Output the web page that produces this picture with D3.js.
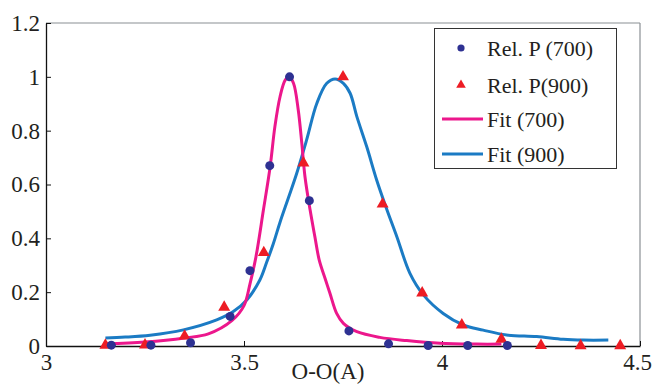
<!DOCTYPE html>
<html>
<head>
<meta charset="utf-8">
<script src="https://cdn.jsdelivr.net/npm/d3@7"></script>
<style>
  body { margin: 0; background: #fff; }
  svg { display: block; font-family: "Liberation Serif", "Times New Roman", serif; }
</style>
</head>
<body>
<svg id="chart" width="653" height="385"></svg>
<script>
// Rel. P (700) points
const dots700X = [3.165, 3.265, 3.365, 3.465, 3.515, 3.565, 3.615, 3.665, 3.765, 3.865, 3.965, 4.065, 4.165];
const dots700Y = [0.003, 0.003, 0.012, 0.11, 0.28, 0.67, 1.0, 0.54, 0.056, 0.008, 0.002, 0.002, 0.002];

// Rel. P(900) points
const tri900X = [3.15, 3.25, 3.35, 3.45, 3.55, 3.65, 3.75, 3.85, 3.95, 4.05, 4.15, 4.25, 4.35, 4.45];
const tri900Y = [0.003, 0.004, 0.037, 0.144, 0.347, 0.68, 1.0, 0.527, 0.197, 0.078, 0.025, 0.002, 0.001, 0.001];

// Fit (700) curve
const fit700X = [3.15, 3.25, 3.35, 3.41, 3.47, 3.50, 3.515, 3.53, 3.549, 3.566, 3.578, 3.591, 3.604, 3.614, 3.625,
  3.637, 3.646, 3.654, 3.667, 3.679, 3.69, 3.705, 3.717, 3.734, 3.751, 3.785, 3.843, 3.911, 3.995, 4.088, 4.15];
const fit700Y = [0.008, 0.015, 0.03, 0.045, 0.095, 0.15, 0.23, 0.33, 0.505, 0.666, 0.815, 0.926, 0.988, 1.0, 0.976,
  0.877, 0.753, 0.629, 0.505, 0.406, 0.319, 0.25, 0.196, 0.121, 0.084, 0.053, 0.032, 0.02, 0.01, 0.007, 0.007];

// Fit (900) curve
const fit900X = [3.15, 3.20, 3.263, 3.347, 3.431, 3.473, 3.507, 3.54, 3.557, 3.574, 3.591, 3.612, 3.633, 3.658, 3.684,
  3.709, 3.73, 3.751, 3.768, 3.785, 3.81, 3.835, 3.86, 3.886, 3.919, 3.953, 4.003, 4.054, 4.104, 4.163, 4.239,
  4.306, 4.357, 4.42];
const fit900Y = [0.03, 0.033, 0.04, 0.06, 0.097, 0.128, 0.171, 0.245, 0.31, 0.38, 0.46, 0.55, 0.641, 0.765, 0.902,
  0.976, 0.992, 0.976, 0.939, 0.852, 0.74, 0.617, 0.51, 0.406, 0.27, 0.19, 0.121, 0.078, 0.059, 0.041, 0.035,
  0.025, 0.022, 0.022];

const xTicks = [3, 3.5, 4, 4.5];
const yTicks = [0, 0.2, 0.4, 0.6, 0.8, 1, 1.2];
const legendLabels = ["Rel. P (700)", "Rel. P(900)", "Fit (700)", "Fit (900)"];

const colDot = "#2e3192";
const colTri = "#ed1c24";
const colFit700 = "#ec178c";
const colFit900 = "#1b7bc4";

const svg = d3.select("#chart");
const plotLeft = 46, plotRight = 640, plotTop = 23, plotBottom = 346;

const x = d3.scaleLinear().domain([3, 4.5]).range([plotLeft, plotRight]);
const y = d3.scaleLinear().domain([0, 1.2]).range([plotBottom, plotTop]);

// frame: top and right in gray
svg.append("line")
  .attr("x1", plotLeft).attr("x2", plotRight).attr("y1", plotTop).attr("y2", plotTop)
  .attr("stroke", "#8a8f94").attr("stroke-width", 1.2);
svg.append("line")
  .attr("x1", plotRight).attr("x2", plotRight).attr("y1", plotTop).attr("y2", plotBottom)
  .attr("stroke", "#8a8f94").attr("stroke-width", 1.2);

// x axis
const gx = svg.append("g")
  .attr("transform", "translate(0," + plotBottom + ")")
  .call(d3.axisBottom(x).tickValues(xTicks).tickSizeInner(-5).tickSizeOuter(0)
    .tickFormat(d3.format("")));
gx.select(".domain").attr("stroke", "#111").attr("stroke-width", 1.3);
gx.selectAll(".tick line").attr("stroke", "#111");
gx.selectAll(".tick text")
  .attr("y", 24).attr("dy", 0)
  .attr("dx", d => d === 4.5 ? -3 : 0)
  .attr("fill", "#231f20")
  .style("font-size", "23px")
  .style("font-family", "Liberation Serif");

// y axis
const gy = svg.append("g")
  .attr("transform", "translate(" + plotLeft + ",0)")
  .call(d3.axisLeft(y).tickValues(yTicks).tickSizeInner(-5).tickSizeOuter(0)
    .tickFormat(d3.format("")));
gy.select(".domain").attr("stroke", "#111").attr("stroke-width", 1.3);
gy.selectAll(".tick line").attr("stroke", "#111");
gy.selectAll(".tick text")
  .attr("x", -6)
  .attr("fill", "#231f20")
  .style("font-size", "23px")
  .style("font-family", "Liberation Serif");

// axis title
svg.append("text")
  .attr("x", 328).attr("y", 379)
  .attr("text-anchor", "middle")
  .attr("fill", "#231f20")
  .style("font-size", "23px")
  .text("O-O(A)");

// fit lines
const line = d3.line()
  .x(d => x(d[0]))
  .y(d => y(d[1]))
  .curve(d3.curveCatmullRom.alpha(0.5));

svg.append("path")
  .datum(d3.zip(fit900X, fit900Y))
  .attr("fill", "none")
  .attr("stroke", colFit900)
  .attr("stroke-width", 3)
  .attr("d", line);

svg.append("path")
  .datum(d3.zip(fit700X, fit700Y))
  .attr("fill", "none")
  .attr("stroke", colFit700)
  .attr("stroke-width", 3)
  .attr("d", line);

// triangles
svg.selectAll(".tri")
  .data(d3.zip(tri900X, tri900Y))
  .enter()
  .append("path")
  .attr("class", "tri")
  .attr("d", d3.symbol().type(d3.symbolTriangle).size(62))
  .attr("transform", d => "translate(" + x(d[0]) + "," + y(d[1]) + ")")
  .attr("fill", colTri);

// dots
svg.selectAll(".dot")
  .data(d3.zip(dots700X, dots700Y))
  .enter()
  .append("circle")
  .attr("class", "dot")
  .attr("cx", d => x(d[0]))
  .attr("cy", d => y(d[1]))
  .attr("r", 4.5)
  .attr("fill", colDot);

// legend
const lg = svg.append("g");
lg.append("rect")
  .attr("x", 434.5).attr("y", 28.5)
  .attr("width", 182).attr("height", 140)
  .attr("fill", "#fff")
  .attr("stroke", "#333").attr("stroke-width", 1);

const rowY = [48, 85, 119, 154];
lg.append("circle")
  .attr("cx", 461).attr("cy", rowY[0]).attr("r", 3.6).attr("fill", colDot);
lg.append("path")
  .attr("d", d3.symbol().type(d3.symbolTriangle).size(40))
  .attr("transform", "translate(461," + rowY[1] + ")")
  .attr("fill", colTri);
lg.append("line")
  .attr("x1", 442).attr("x2", 483).attr("y1", rowY[2]).attr("y2", rowY[2])
  .attr("stroke", colFit700).attr("stroke-width", 3);
lg.append("line")
  .attr("x1", 442).attr("x2", 483).attr("y1", rowY[3]).attr("y2", rowY[3])
  .attr("stroke", colFit900).attr("stroke-width", 3);

lg.selectAll(".lgtext")
  .data(legendLabels)
  .enter()
  .append("text")
  .attr("class", "lgtext")
  .attr("x", 487)
  .attr("y", (d, i) => rowY[i])
  .attr("dy", "0.35em")
  .attr("fill", "#231f20")
  .style("font-size", "22px")
  .text(d => d);
</script>
</body>
</html>
